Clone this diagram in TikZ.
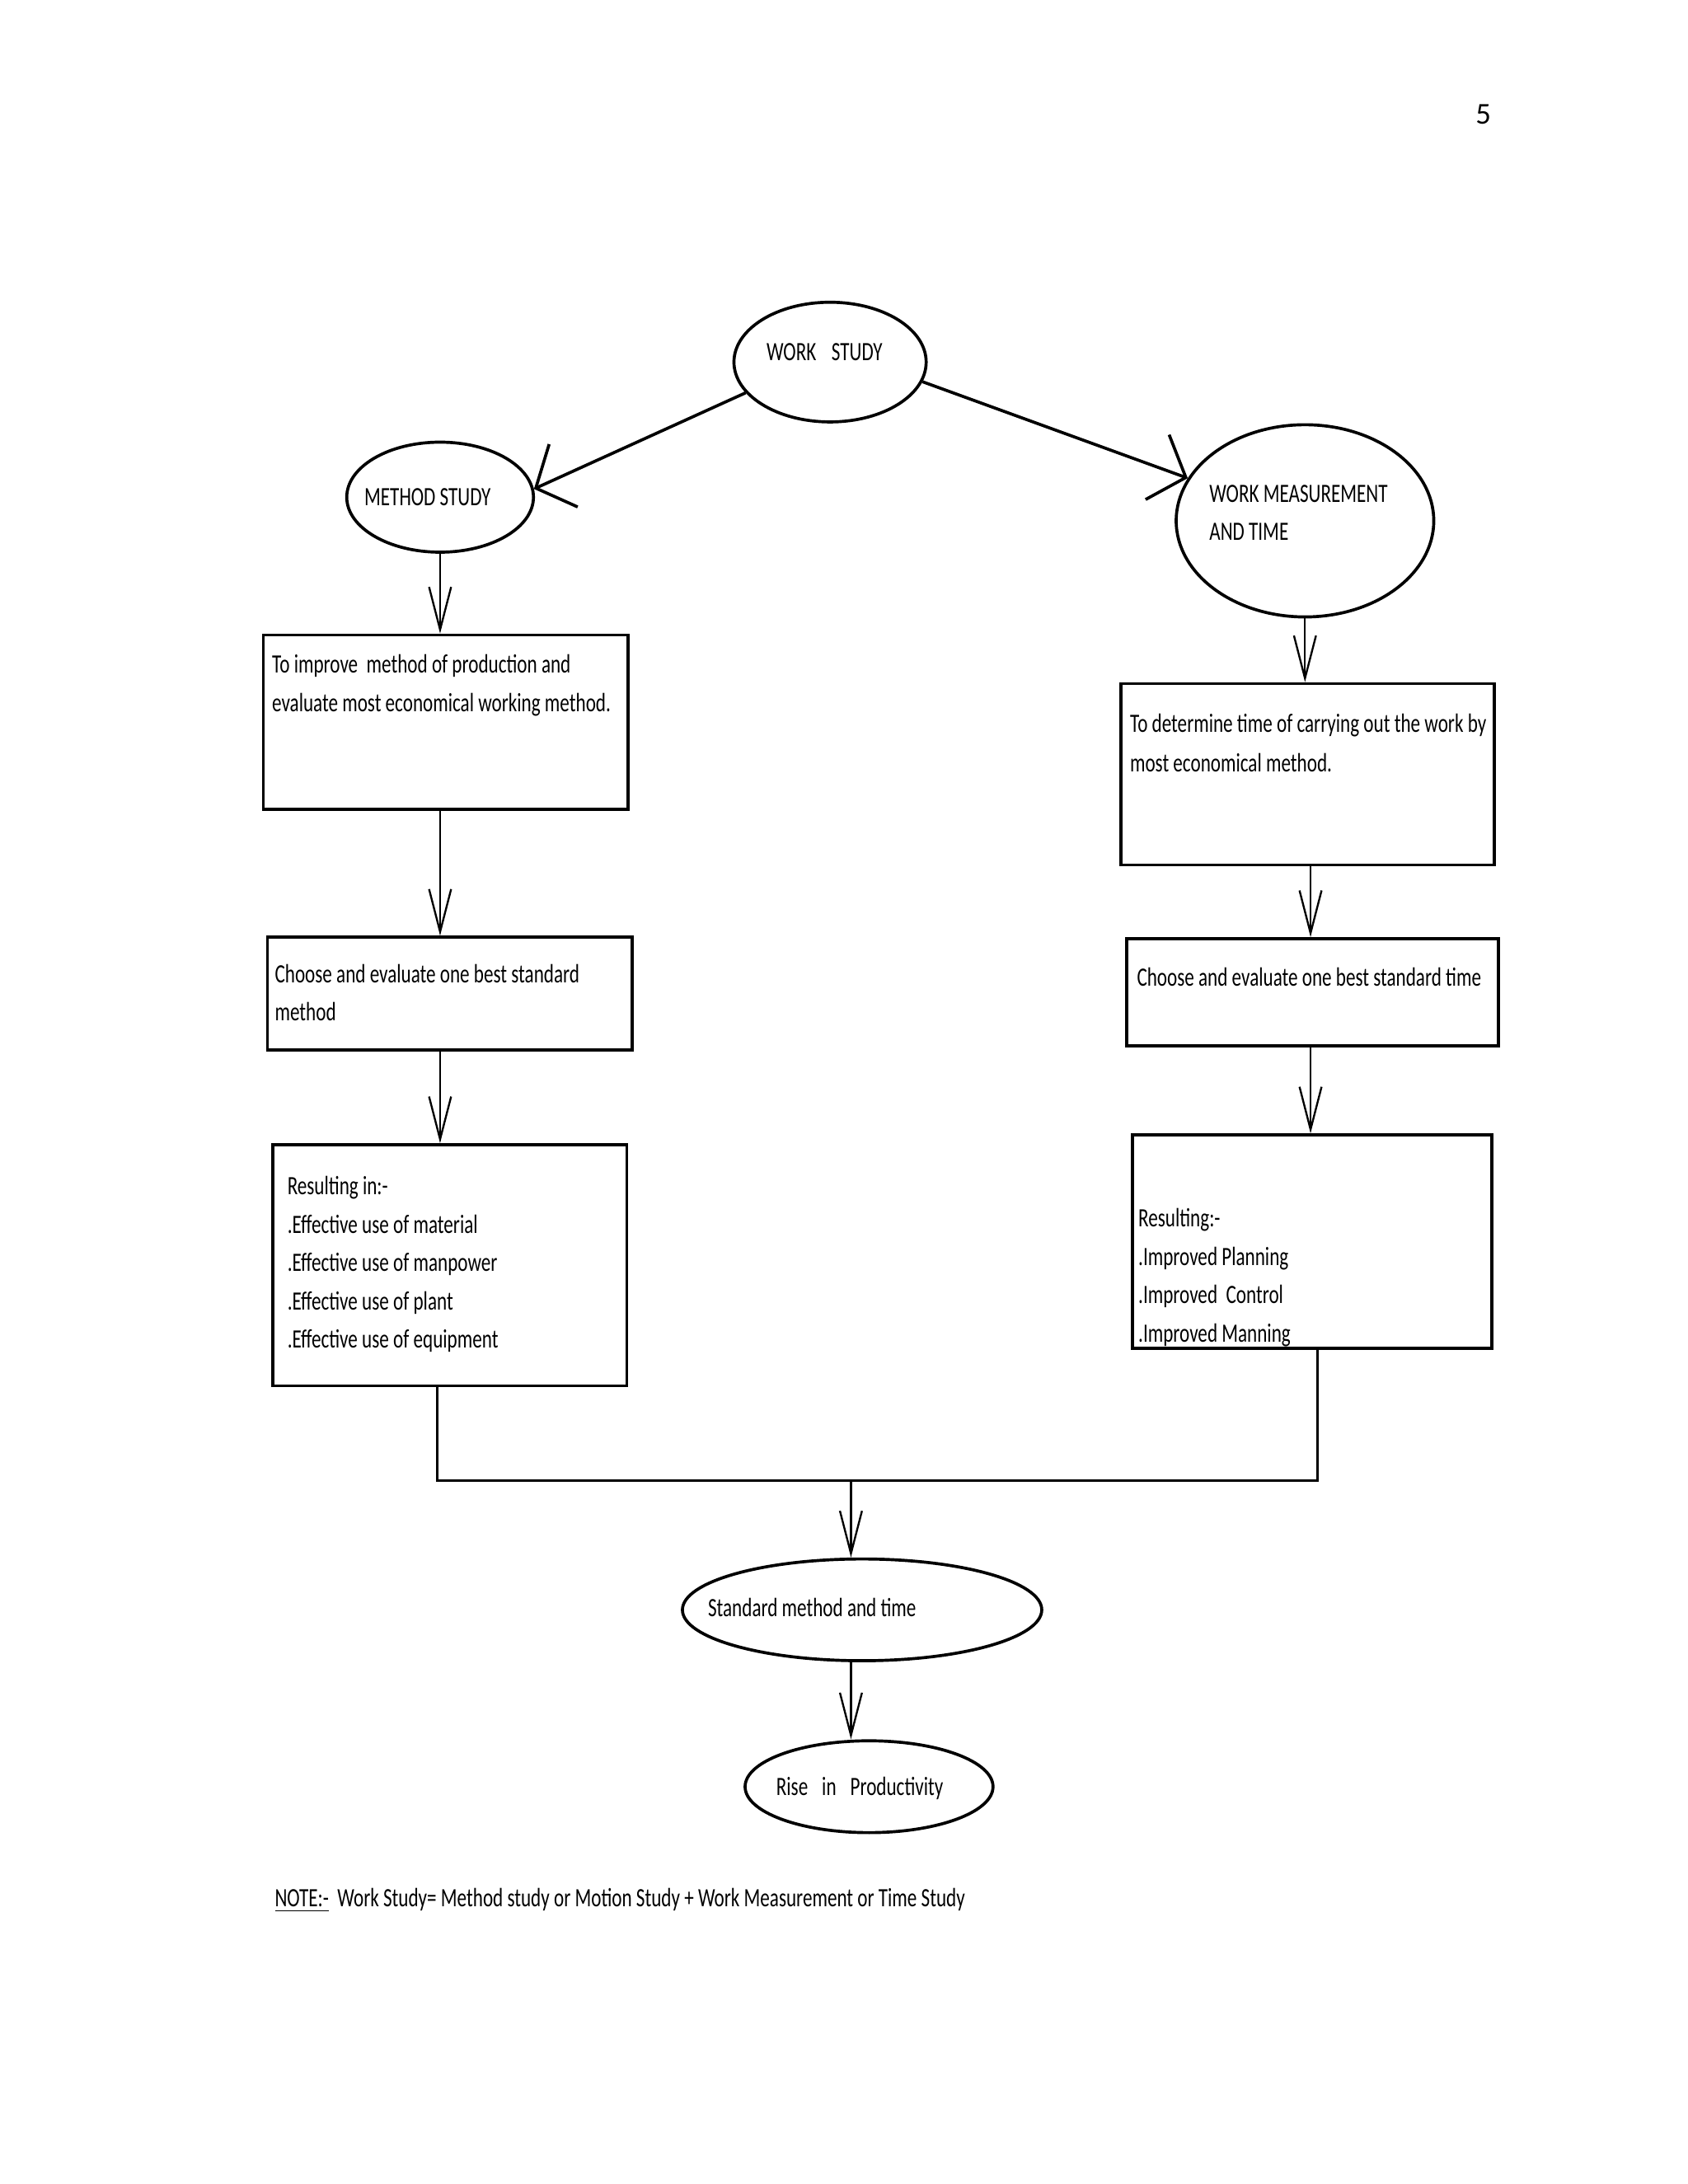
\documentclass[tikz,border=0pt]{standalone}
\usepackage{fontspec}
\setmainfont[FakeStretch=0.72]{Carlito}
\newfontfamily\pagenum{Carlito}
\usetikzlibrary{shapes.geometric,arrows.meta}

\begin{document}
\begin{tikzpicture}[x=0.505pt,y=-0.505pt,
  oval/.style={draw,ellipse,line width=1.1pt,inner sep=0pt},
  box/.style={draw,rectangle,line width=1.1pt,inner sep=0pt},
  txt/.style={inner sep=0pt,font=\fontsize{9.6}{13.9}\selectfont},
  arr/.style={line width=0.7pt,-{Straight Barb[length=15.5pt,width=8pt]}},
  diag/.style={line width=1.1pt,-{Straight Barb[length=11pt,width=25pt]}},
  joinline/.style={line width=0.9pt}]

\useasboundingbox (0,0) rectangle (1212,1568.3);

\newcommand\Dy{27.5}

\node[anchor=base,inner sep=0pt,font=\pagenum\fontsize{11}{13}\selectfont] (pg) at (1065,89) {5};

% ovals
\node[oval,minimum width=69.7pt,minimum height=43.4pt] (ws) at (596,260) {};
\node[oval,minimum width=67.7pt,minimum height=39.9pt] (ms) at (316,357) {};
\node[oval,minimum width=93.4pt,minimum height=69.7pt] (wm) at (937,374) {};
\node[oval,minimum width=130.3pt,minimum height=36.9pt] (sm) at (619,1156) {};
\node[oval,minimum width=89.9pt,minimum height=33.3pt] (rp) at (624,1283) {};

\node[txt,anchor=base] (wst) at (592,259) {WORK\hspace{4pt} STUDY};
\node[txt,anchor=base] (mst) at (307,363) {METHOD STUDY};
\node[txt,anchor=base west] (wmt1) at (868,361) {WORK MEASUREMENT};
\node[txt,anchor=base west] (wmt2) at (868,388) {AND TIME};
\node[txt,anchor=base west] (smt) at (508,1161) {Standard method and time};
\node[txt,anchor=base west] (rpt) at (557,1289) {Rise\hspace{3.5pt} in\hspace{3.5pt} Productivity};

% boxes
\node[box,minimum width=132.3pt,minimum height=63.1pt] (lb1) at (320,518.5) {};
\node[box,minimum width=132.3pt,minimum height=40.9pt] (lb2) at (323,713.5) {};
\node[box,minimum width=128.3pt,minimum height=87.4pt] (lb3) at (323,908.5) {};
\node[box,minimum width=135.3pt,minimum height=65.7pt] (rb1) at (939,556) {};
\node[box,minimum width=134.8pt,minimum height=38.9pt] (rb2) at (942.5,712.5) {};
\node[box,minimum width=130.3pt,minimum height=77.3pt] (rb3) at (942,891.5) {};

\node[txt,anchor=base west] (lt1a) at (195,483) {To improve\ \ method of production and};
\node[txt,anchor=base west] (lt1b) at (195,511) {evaluate most economical working method.};
\node[txt,anchor=base west] (lt2a) at (197,706) {Choose and evaluate one best standard};
\node[txt,anchor=base west] (lt2b) at (197,733) {method};
\foreach \t [count=\i] in {Resulting in:-,.Effective use of material,.Effective use of manpower,.Effective use of plant,.Effective use of equipment}
  \node[txt,anchor=base west] (lt3\i) at (206,{858+(\i-1)*\Dy}) {\t};

\node[txt,anchor=base west] (rt1a) at (811,526) {To determine time of carrying out the work by};
\node[txt,anchor=base west] (rt1b) at (811,554) {most economical method.};
\node[txt,anchor=base west] (rt2) at (816,708) {Choose and evaluate one best standard time};
\foreach \t [count=\i] in {Resulting:-,.Improved Planning,.Improved\ \ Control,.Improved Manning}
  \node[txt,anchor=base west] (rt3\i) at (817,{881+(\i-1)*\Dy}) {\t};

% arrows
\draw[diag] (ws.200) -- (ms.5);
\draw[diag] (ws.-12) -- (wm.160);

\draw[arr] (ms.south) -- (lb1.north -| ms.south);
\draw[arr] (lb1.south -| ms.south) -- (lb2.north -| ms.south);
\draw[arr] (lb2.south -| ms.south) -- (lb3.north -| ms.south);

\coordinate (rx) at (941,0);
\draw[arr] (wm.south) -- (rb1.north -| wm.south);
\draw[arr] (rb1.south -| rx) -- (rb2.north -| rx);
\draw[arr] (rb2.south -| rx) -- (rb3.north -| rx);

\coordinate (jl) at (314,1063);
\coordinate (jr) at (946,1063);
\coordinate (j) at (611,1063);
\draw[joinline] (lb3.south -| jl) -- (jl) -- (jr) -- (rb3.south -| jr);
\draw[arr] (j) -- (sm.north -| j);
\draw[arr] (sm.south -| j) -- (rp.north -| j);

\node[txt,anchor=base west] (note) at (197,1369) {\underline{NOTE:-}\ \ Work Study= Method study or Motion Study + Work Measurement or Time Study};

\end{tikzpicture}
\end{document}
